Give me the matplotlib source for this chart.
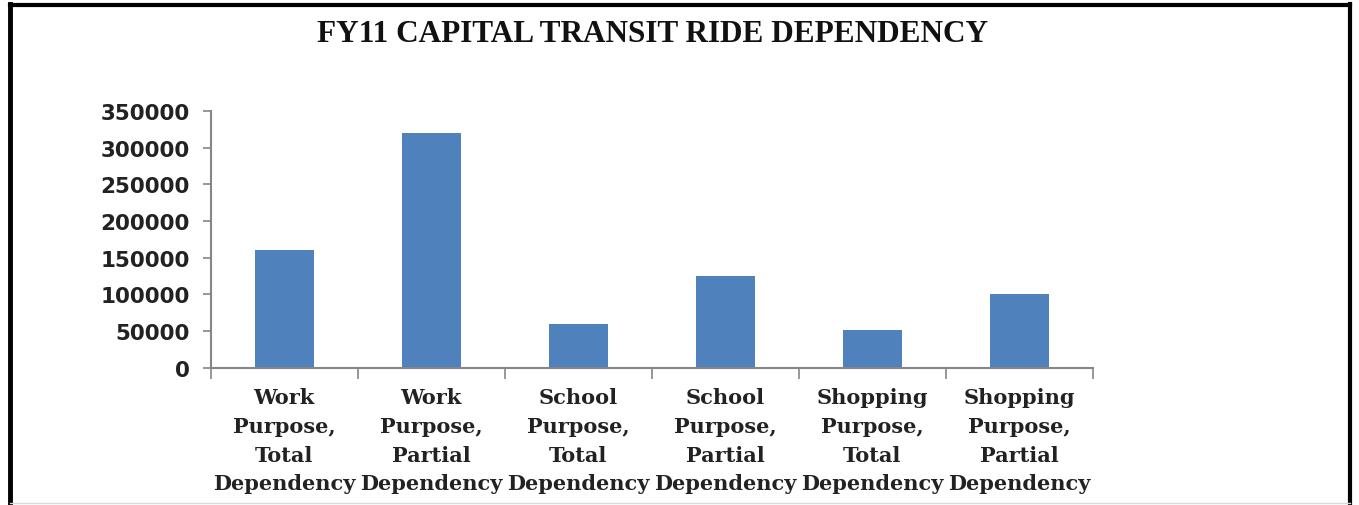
import matplotlib
matplotlib.use("Agg")
import matplotlib.pyplot as plt
from matplotlib.lines import Line2D

# chart data
categories = ["Work\nPurpose,\nTotal\nDependency",
              "Work\nPurpose,\nPartial\nDependency",
              "School\nPurpose,\nTotal\nDependency",
              "School\nPurpose,\nPartial\nDependency",
              "Shopping\nPurpose,\nTotal\nDependency",
              "Shopping\nPurpose,\nPartial\nDependency"]
rides = [160000, 320000, 60000, 125000, 52000, 100000]
yticks = [0, 50000, 100000, 150000, 200000, 250000, 300000, 350000]

title = "FY11 CAPITAL TRANSIT RIDE DEPENDENCY"
bar_color = "#4F81BD"
axis_color = "#868686"

fig = plt.figure(figsize=(13.59, 5.06), dpi=100)
ax = fig.add_axes([0.155, 0.271, 0.649, 0.508])

x = list(range(len(categories)))
ax.bar(x, rides, width=0.4, color=bar_color, zorder=2)

ax.set_xlim(-0.5, len(categories) - 0.5)
ax.set_ylim(0, 350000)
ax.set_yticks(yticks)
ax.set_yticklabels([str(v) for v in yticks], fontsize=15.5, fontweight="bold",
                   family="DejaVu Sans", color="#222222")

# category labels, ticks sit between the categories
ax.set_xticks([i - 0.5 for i in range(len(categories) + 1)])
ax.set_xticklabels([])
ax.tick_params(axis="x", length=8, width=1.2, color=axis_color, direction="out")
ax.tick_params(axis="y", length=6, width=1.2, color=axis_color, direction="out", pad=9)
for i, lab in enumerate(categories):
    ax.text(i, -26000, lab, ha="center", va="top", fontsize=15, fontweight="bold",
            family="DejaVu Serif", color="#222222", linespacing=1.55)

for side in ["top", "right"]:
    ax.spines[side].set_visible(False)
for side in ["left", "bottom"]:
    ax.spines[side].set_color(axis_color)
    ax.spines[side].set_linewidth(1.5)

fig.text(0.48, 0.931, title, ha="center", va="center", fontsize=22.5, fontweight="bold",
         family="Liberation Serif", color="#111111")

# black frame round the chart
fig.add_artist(Line2D([0.0077, 0.0077], [0.0, 0.99], transform=fig.transFigure, color="black", lw=3.5))
fig.add_artist(Line2D([0.0077, 0.9935], [0.988, 0.988], transform=fig.transFigure, color="black", lw=3))
fig.add_artist(Line2D([0.9935, 0.9935], [0.0, 0.99], transform=fig.transFigure, color="black", lw=3))
fig.add_artist(Line2D([0.0077, 0.9935], [0.004, 0.004], transform=fig.transFigure, color="#d9d9d9", lw=1))

fig.savefig("out.png", dpi=100, facecolor="white")
